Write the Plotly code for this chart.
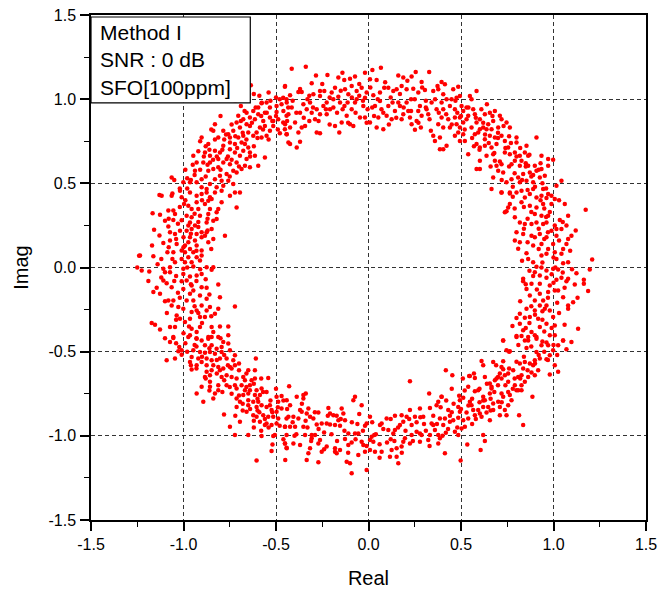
import plotly.graph_objects as go

# Constellation points, grouped by region of the ring (Real, Imag)
top_left_pts = [(-0.636,1.082),(-0.452,1.074),(-0.461,1.009),(-0.551,0.980),(-0.578,0.976),(-0.533,0.950),(-0.497,0.924),(-0.488,0.881),(-0.443,0.901),(-0.461,0.861),(-0.452,0.822),(-0.443,0.792),(-0.479,0.798),(-0.623,0.930),(-0.596,0.910),(-0.614,0.881),(-0.641,0.891),(-0.659,0.851),(-0.569,0.871),(-0.56,0.841),(-0.587,0.831),(-0.605,0.802),(-0.623,0.782),(-0.578,0.772),(-0.551,0.782),(-0.533,0.812),(-0.515,0.841),(-0.713,0.861),(-0.695,0.831),(-0.731,0.812),(-0.758,0.792),(-0.785,0.812),(-0.812,0.772),(-0.749,0.772),(-0.704,0.772),(-0.686,0.743),(-0.668,0.733),(-0.65,0.713),(-0.677,0.693),(-0.722,0.683),(-0.749,0.703),(-0.785,0.723),(-0.839,0.812),(-0.83,0.851),(-0.902,0.772),(-0.866,0.733),(-0.884,0.683),(-0.857,0.664),(-0.947,0.664),(-0.929,0.624),(-0.857,0.624),(-0.839,0.585),(-0.812,0.595),(-0.785,0.624),(-0.749,0.614),(-0.731,0.575),(-0.713,0.565),(-0.767,0.555),(-0.803,0.545),(-0.83,0.525),(-0.794,0.515),(-0.758,0.515),(-0.731,0.496),(-0.785,0.486),(-0.821,0.476),(-0.857,0.496),(-0.875,0.466),(-0.902,0.476),(-0.929,0.506),(-0.965,0.506),(-1.001,0.506),(-1.064,0.535),(-0.866,0.575),(-0.767,0.644),(-0.812,0.644),(-0.56,0.654),(-0.614,0.664),(-0.596,0.604),(-0.641,0.683),(-0.659,0.644),(-0.695,0.664),(-0.713,0.624),(-0.668,0.604),(-0.641,0.595),(-0.686,0.585),(-0.902,0.525),(-0.938,0.575),(-0.893,0.624),(-0.83,0.693),(-0.803,0.683),(-0.749,0.743),(-0.722,0.733),(-0.65,0.802),(-0.677,0.782),(-0.533,0.891),(-0.515,0.871),(-0.497,0.960),(-0.443,0.999),(-0.47,0.970),(-0.434,0.950),(-0.56,0.920),(-0.659,0.920),(-0.677,0.881),(-0.704,0.901),(-0.596,0.950),(-0.641,0.841),(-1.05,0.52),(-1.13,0.43),(-0.98,0.53),(-0.91,0.75),(-0.85,0.82),(-0.80,0.90),(-0.72,0.99),(-0.67,0.93),(-0.59,1.02),(-0.577,0.979),(-0.95,0.61),(-0.99,0.58),(-0.88,0.72),(-0.78,0.76),(-0.74,0.85),(-0.69,0.96),(-0.62,1.03),(-0.54,1.04),(-0.50,1.01),
    (-0.98,0.47),(-0.94,0.55),(-0.91,0.58),(-0.89,0.66),(-0.87,0.61),(-0.86,0.70),(-0.83,0.76),(-0.82,0.66),(-0.80,0.58),(-0.79,0.70),(-0.77,0.79),(-0.76,0.66),(-0.75,0.54),(-0.74,0.64),(-0.72,0.78),(-0.71,0.71),(-0.70,0.60),(-0.69,0.87),(-0.68,0.80),(-0.66,0.76),(-0.64,0.66),(-0.63,0.86),(-0.62,0.72),(-0.61,0.95),(-0.60,0.77),(-0.58,0.90),(-0.57,0.82),(-0.55,0.92),(-0.54,0.76),(-0.53,0.99),(-0.52,0.87),(-0.50,0.90),(-0.49,0.82),(-0.48,1.00),(-0.46,0.93),(-0.92,0.69),(-0.96,0.52),(-1.02,0.47),(-0.88,0.54),(-0.84,0.64)]

top_pts = [(-0.415,1.181),(-0.339,1.193),(-0.284,1.141),(-0.222,1.143),(-0.141,1.157),(-0.163,1.128),(-0.131,1.114),(-0.10,1.122),(-0.073,1.134),(-0.019,1.157),(0.021,1.173),(0.067,1.187),(0.008,1.118),(0.044,1.114),(0.161,1.141),(0.188,1.128),(0.233,1.134),(0.255,1.161),(0.287,1.102),(0.328,1.161),(0.373,1.078),(0.395,1.102),(-0.451,1.078),(-0.424,1.023),(-0.379,1.043),(-0.361,1.043),(-0.307,1.094),(-0.298,1.029),(-0.262,1.049),(-0.239,1.049),(-0.199,1.039),(-0.181,1.068),(-0.163,1.015),(-0.127,1.059),(-0.109,1.029),(-0.091,1.078),(-0.064,1.049),(-0.037,1.068),(-0.01,1.039),(-0.019,1.009),(0.026,1.023),(0.062,1.039),(0.085,1.068),(0.107,1.068),(0.134,1.049),(0.152,1.059),(0.179,1.078),(0.206,1.059),(0.242,1.062),(0.269,1.039),(0.305,1.055),(0.35,1.049),(0.377,1.059),(0.404,1.029),(-0.442,0.980),(-0.415,0.950),(-0.433,0.910),(-0.451,0.851),(-0.424,0.831),(-0.442,0.792),(-0.433,0.743),(-0.379,0.802),(-0.397,0.861),(-0.361,0.831),(-0.343,0.841),(-0.37,0.920),(-0.352,0.970),(-0.334,0.940),(-0.316,0.980),(-0.307,0.920),(-0.28,0.940),(-0.289,0.881),(-0.28,0.802),(-0.262,0.798),(-0.262,0.910),(-0.244,0.960),(-0.226,0.980),(-0.226,0.910),(-0.208,0.940),(-0.181,0.841),(-0.19,0.950),(-0.154,0.980),(-0.158,0.802),(-0.145,0.861),(-0.118,0.901),(-0.113,0.980),(-0.10,0.851),(-0.091,0.940),(-0.082,0.841),(-0.073,0.980),(-0.064,0.999),(-0.046,0.891),(-0.028,0.960),(-0.019,0.891),(-0.005,0.940),(0.008,0.861),(0.035,0.960),(0.053,0.891),(0.062,0.989),(0.044,0.831),(0.08,0.822),(0.08,0.920),(0.098,0.901),(0.107,0.960),(0.125,0.881),(0.143,0.930),(0.161,0.980),(0.179,0.881),(0.188,0.910),(0.206,0.980),(0.215,0.930),(0.224,0.891),(0.233,0.851),(0.251,0.818),(0.269,0.930),(0.278,0.960),(0.283,0.831),(0.287,0.901),(0.314,0.940),(0.323,0.910),(0.337,0.812),(0.341,0.980),(0.35,0.782),(0.359,0.752),(0.368,0.940),(0.377,0.851),(0.386,0.703),(0.404,0.703),(0.395,0.891),(-0.262,1.019),(-0.388,0.713),(-0.37,0.747),(-0.424,0.733),(-0.33,1.00),(-0.21,1.01),(-0.05,1.02),(0.12,1.01),(0.23,1.00),(0.31,0.99),(-0.14,0.94),(0.02,0.95),(0.17,0.96),(-0.32,0.87),(0.26,0.87),
    (-0.44,0.87),(-0.41,0.99),(-0.39,0.92),(-0.37,1.06),(-0.35,0.89),(-0.32,1.02),(-0.30,0.95),(-0.27,0.87),(-0.25,1.09),(-0.23,0.94),(-0.21,0.85),(-0.19,1.00),(-0.17,0.92),(-0.15,1.05),(-0.13,0.96),(-0.11,0.86),(-0.09,1.01),(-0.07,0.92),(-0.05,1.09),(-0.03,0.99),(-0.01,0.86),(0.01,1.07),(0.03,0.90),(0.05,1.00),(0.07,0.94),(0.09,1.10),(0.11,0.85),(0.13,0.98),(0.15,0.89),(0.17,1.03),(0.19,0.95),(0.21,1.11),(0.23,0.93),(0.25,1.00),(0.27,0.86),(0.29,1.07),(0.31,0.95),(0.33,0.88),(0.36,1.00),(0.38,0.92)]

top_right_pts = [(0.413,1.088),(0.458,1.059),(0.485,1.074),(0.494,1.019),(0.476,1.009),(0.449,0.999),(0.422,0.999),(0.395,0.980),(0.404,0.940),(0.467,0.940),(0.503,0.960),(0.512,0.930),(0.548,1.019),(0.557,0.999),(0.584,1.049),(0.53,0.950),(0.566,0.940),(0.575,0.910),(0.539,0.901),(0.494,0.891),(0.467,0.891),(0.431,0.881),(0.404,0.831),(0.44,0.831),(0.476,0.851),(0.494,0.831),(0.512,0.861),(0.485,0.802),(0.512,0.792),(0.521,0.752),(0.494,0.752),(0.467,0.782),(0.422,0.723),(0.386,0.772),(0.539,0.673),(0.557,0.831),(0.584,0.861),(0.602,0.881),(0.629,0.910),(0.656,0.920),(0.683,0.930),(0.71,0.901),(0.719,0.881),(0.674,0.871),(0.647,0.851),(0.62,0.831),(0.593,0.802),(0.575,0.792),(0.602,0.822),(0.638,0.822),(0.665,0.822),(0.701,0.831),(0.746,0.861),(0.764,0.831),(0.719,0.782),(0.683,0.772),(0.656,0.782),(0.629,0.762),(0.584,0.733),(0.602,0.713),(0.629,0.723),(0.665,0.713),(0.692,0.733),(0.737,0.752),(0.80,0.772),(0.80,0.743),(0.854,0.723),(0.908,0.772),(0.755,0.713),(0.737,0.683),(0.674,0.673),(0.638,0.664),(0.683,0.634),(0.719,0.614),(0.764,0.673),(0.791,0.683),(0.818,0.664),(0.845,0.683),(0.863,0.664),(0.827,0.634),(0.791,0.634),(0.773,0.614),(0.818,0.604),(0.863,0.604),(0.899,0.604),(0.935,0.664),(0.971,0.644),(0.998,0.640),(0.971,0.604),(0.935,0.585),(0.908,0.575),(0.872,0.565),(0.836,0.555),(0.809,0.535),(0.773,0.525),(0.818,0.506),(0.854,0.515),(0.89,0.506),(0.926,0.535),(0.953,0.545),(1.043,0.515),(1.016,0.486),(0.674,0.535),(0.701,0.575),(0.728,0.565),(0.692,0.604),(0.602,0.585),(0.584,0.585),(0.602,0.634),(0.746,0.506),(0.719,0.446),(0.764,0.446),(0.827,0.456),(0.89,0.466),(0.944,0.466),(0.971,0.436),(0.665,0.466),(0.44,0.96),(0.53,0.88),(0.61,0.94),(0.70,0.80),(0.76,0.78),(0.85,0.62),(0.93,0.62),(0.88,0.54),
    (0.42,0.91),(0.45,0.85),(0.47,0.99),(0.50,0.90),(0.52,0.82),(0.54,0.95),(0.56,0.77),(0.58,0.89),(0.60,0.70),(0.62,0.86),(0.63,0.79),(0.65,0.74),(0.67,0.90),(0.68,0.68),(0.70,0.77),(0.71,0.63),(0.73,0.84),(0.74,0.71),(0.76,0.60),(0.77,0.74),(0.79,0.56),(0.80,0.66),(0.82,0.71),(0.83,0.52),(0.85,0.60),(0.86,0.46),(0.87,0.67),(0.89,0.55),(0.90,0.48),(0.92,0.58),(0.94,0.50),(0.96,0.47),(0.66,0.60),(0.72,0.52),(0.78,0.48),(0.57,0.72),(0.48,0.92),(0.64,0.97)]

right_pts = [(0.719,0.446),(0.764,0.440),(0.80,0.446),(0.845,0.416),(0.872,0.436),(0.908,0.416),(0.935,0.426),(0.962,0.413),(0.989,0.426),(1.007,0.407),(0.989,0.377),(0.944,0.377),(0.908,0.357),(0.872,0.367),(0.827,0.387),(0.764,0.377),(0.755,0.357),(0.746,0.334),(0.737,0.328),(0.791,0.298),(0.818,0.268),(0.845,0.259),(0.881,0.259),(0.908,0.268),(0.944,0.259),(0.962,0.268),(0.971,0.308),(0.935,0.308),(0.899,0.318),(1.061,0.377),(1.079,0.308),(1.034,0.282),(1.007,0.249),(1.016,0.229),(1.043,0.229),(1.070,0.249),(1.097,0.189),(1.079,0.170),(1.07,0.140),(1.052,0.110),(1.043,0.081),(1.079,0.031),(1.052,0.025),(1.016,0.051),(1.007,0.091),(0.998,0.140),(1.016,0.189),(0.989,0.219),(0.962,0.180),(0.926,0.199),(0.899,0.180),(0.881,0.189),(0.836,0.199),(0.80,0.209),(0.791,0.160),(0.818,0.150),(0.809,0.111),(0.854,0.085),(0.863,0.051),(0.89,0.031),(0.935,0.071),(0.962,0.081),(0.971,0.110),(0.935,0.140),(1.174,0.343),(1.209,0.047),(1.196,-0.012),(1.124,-0.034),(1.164,-0.073),(1.164,-0.097),(1.187,-0.140),(1.115,-0.101),(1.079,-0.067),(1.070,-0.081),(1.043,-0.061),(1.016,-0.073),(1.025,-0.012),(0.998,-0.008),(0.962,-0.018),(0.935,0.0),(0.908,0.004),(0.899,-0.028),(0.926,-0.048),(0.962,-0.061),(0.98,-0.107),(1.007,-0.136),(1.025,-0.136),(0.926,-0.097),(0.881,-0.097),(0.836,-0.067),(0.836,-0.081),(0.854,-0.127),(0.872,-0.166),(0.899,-0.196),(0.926,-0.156),(0.971,-0.146),(0.944,-0.196),(0.962,-0.225),(0.953,-0.245),(0.98,-0.255),(0.926,-0.225),(0.899,-0.255),(0.917,-0.304),(0.872,-0.294),(0.854,-0.245),(0.818,-0.275),(0.845,-0.298),(0.926,-0.354),(0.881,-0.383),(0.836,-0.373),(0.80,-0.407),(0.818,-0.334),(0.778,-0.348),(0.863,-0.413),(0.908,-0.413),(0.962,-0.334),(1.007,-0.344),(0.998,-0.294),(1.079,-0.225),(1.079,-0.245),(1.052,-0.176),(1.106,-0.206),(1.133,-0.364),(0.98,-0.403),(1.052,-0.433),(0.728,-0.433),(0.88,0.33),(0.95,0.35),(0.86,0.15),(0.92,0.11),(1.03,0.16),(0.89,-0.05),(1.05,-0.03),(0.94,-0.26),(1.02,-0.21),(0.87,-0.33),(0.95,-0.38),
    (0.78,0.42),(0.84,0.36),(0.93,0.40),(0.98,0.33),(1.03,0.40),(0.86,0.29),(0.92,0.23),(0.97,0.21),(1.05,0.27),(0.84,0.23),(0.89,0.13),(0.95,0.17),(1.00,0.06),(1.09,0.10),(0.83,0.04),(0.87,-0.02),(0.94,0.03),(0.99,-0.04),(1.10,-0.01),(0.85,-0.10),(0.91,-0.13),(1.00,-0.09),(1.06,-0.12),(0.88,-0.23),(0.97,-0.18),(1.03,-0.27),(0.82,-0.20),(0.90,-0.28),(0.94,-0.31),(0.99,-0.36),(0.85,-0.36),(0.80,-0.30),(1.06,-0.34),(0.79,0.35),(1.12,0.22),(1.13,-0.18),(0.96,0.30),(1.01,0.00)]

left_pts = [(-1.019,0.456),(-0.965,0.446),(-0.929,0.426),(-0.902,0.436),(-0.875,0.446),(-0.848,0.407),(-0.83,0.446),(-0.794,0.456),(-0.749,0.426),(-0.722,0.446),(-0.695,0.446),(-0.713,0.357),(-1.118,0.426),(-1.064,0.426),(-0.866,0.397),(-0.884,0.377),(-0.929,0.387),(-0.974,0.367),(-0.956,0.347),(-0.92,0.347),(-0.857,0.347),(-0.812,0.347),(-0.794,0.387),(-0.821,0.328),(-0.866,0.318),(-0.911,0.308),(-0.956,0.298),(-0.983,0.308),(-1.055,0.338),(-1.082,0.338),(-1.046,0.318),(-1.167,0.322),(-1.127,0.314),(-1.10,0.278),(-1.055,0.282),(-0.965,0.268),(-0.875,0.268),(-0.839,0.278),(-0.821,0.288),(-0.974,0.249),(-0.938,0.249),(-1.082,0.243),(-1.073,0.209),(-1.046,0.199),(-1.019,0.219),(-0.983,0.219),(-0.956,0.229),(-0.902,0.209),(-0.875,0.209),(-0.848,0.229),(-0.884,0.189),(-0.902,0.180),(-0.929,0.199),(-0.776,0.189),(-0.839,0.170),(-0.866,0.150),(-1.159,0.225),(-1.109,0.146),(-1.073,0.160),(-1.037,0.140),(-0.992,0.130),(-0.974,0.150),(-0.965,0.180),(-0.938,0.160),(-0.929,0.130),(-0.965,0.110),(-0.992,0.091),(-1.01,0.101),(-0.947,0.091),(-0.902,0.101),(-0.902,0.071),(-0.929,0.061),(-0.974,0.061),(-1.01,0.051),(-1.055,0.091),(-1.087,0.091),(-1.235,0.071),(-1.163,0.067),(-1.046,0.031),(-0.992,0.031),(-0.956,0.031),(-0.911,0.041),(-0.875,0.002),(-0.848,-0.014),(-0.839,0.002),(-0.947,0.006),(-1.001,-0.008),(-1.073,0.002),(-1.109,-0.008),(-1.226,-0.018),(-1.185,-0.024),(-1.10,-0.028),(-1.073,-0.028),(-1.001,-0.038),(-0.965,-0.054),(-0.929,-0.048),(-0.902,-0.038),(-0.983,-0.077),(-1.01,-0.081),(-1.109,-0.077),(-1.091,-0.093),(-1.145,-0.121),(-1.127,-0.156),(-1.163,-0.146),(-1.064,-0.117),(-1.001,-0.127),(-0.956,-0.107),(-0.947,-0.136),(-0.902,-0.117),(-0.875,-0.121),(-0.812,-0.101),(-0.965,-0.156),(-0.983,-0.196),(-0.947,-0.196),(-0.911,-0.166),(-0.875,-0.186),(-0.803,-0.176),(-0.902,-0.225),(-1.055,-0.196),(-1.082,-0.196),(-1.064,-0.225),(-1.028,-0.235),(-1.001,-0.245),(-0.956,-0.265),(-0.929,-0.255),(-0.875,-0.255),(-0.857,-0.235),(-0.812,-0.245),(-0.83,-0.275),(-0.884,-0.294),(-0.911,-0.294),(-0.965,-0.304),(-1.019,-0.304),(-1.037,-0.285),(-0.722,-0.231),(-1.172,-0.330),(-1.154,-0.340),(-1.127,-0.369),(-1.073,-0.354),(-1.046,-0.354),(-0.992,-0.324),(-0.956,-0.364),(-0.929,-0.383),(-0.911,-0.354),(-0.848,-0.354),(-0.803,-0.350),(-0.758,-0.350),(-1.055,-0.413),(-0.974,-0.413),(-0.866,-0.413),(-0.839,-0.383),(-0.758,-0.403),(-0.857,0.417),(-1.01,0.417),(-0.997,0.377),(-1.25,0.0),(-1.24,0.07),(-1.03,0.26),(-0.92,0.24),(-1.04,-0.05),(-0.93,-0.08),(-1.03,-0.15),(-0.92,-0.27),(-1.00,0.18),(-1.12,0.05),
    (-1.06,0.44),(-0.99,0.40),(-0.90,0.40),(-1.02,0.36),(-0.94,0.32),(-0.87,0.29),(-1.08,0.29),(-1.01,0.28),(-0.92,0.27),(-1.13,0.19),(-1.04,0.17),(-0.96,0.20),(-0.87,0.22),(-1.08,0.12),(-1.00,0.12),(-0.93,0.10),(-0.85,0.11),(-1.14,0.02),(-1.06,0.05),(-0.98,0.00),(-0.91,-0.01),(-1.12,-0.06),(-1.05,-0.08),(-0.96,-0.10),(-0.88,-0.07),(-1.10,-0.20),(-1.02,-0.18),(-0.94,-0.23),(-0.86,-0.16),(-1.09,-0.27),(-1.04,-0.31),(-0.97,-0.35),(-0.90,-0.33),(-0.85,-0.29),(-1.10,-0.42),(-1.00,-0.39),(-0.93,-0.42),(-0.80,-0.42),(-1.19,-0.08),(-1.17,0.13)]

bottom_left_pts = [(-1.055,-0.419),(-1.073,-0.442),(-1.023,-0.472),(-1.028,-0.498),(-1.01,-0.492),(-1.091,-0.551),(-1.046,-0.541),(-0.965,-0.403),(-0.929,-0.423),(-0.902,-0.433),(-0.866,-0.423),(-0.848,-0.413),(-0.812,-0.413),(-0.785,-0.442),(-0.758,-0.452),(-0.794,-0.472),(-0.821,-0.482),(-0.848,-0.462),(-0.884,-0.462),(-0.947,-0.492),(-0.911,-0.502),(-0.884,-0.506),(-0.857,-0.502),(-0.83,-0.512),(-0.794,-0.502),(-0.749,-0.492),(-0.722,-0.521),(-0.731,-0.551),(-0.767,-0.541),(-0.803,-0.541),(-0.848,-0.551),(-0.875,-0.541),(-0.92,-0.541),(-0.956,-0.531),(-0.965,-0.561),(-0.929,-0.581),(-0.902,-0.561),(-0.875,-0.581),(-0.839,-0.581),(-0.812,-0.591),(-0.785,-0.600),(-0.749,-0.591),(-0.722,-0.581),(-0.956,-0.606),(-0.848,-0.610),(-0.875,-0.620),(-0.857,-0.640),(-0.884,-0.650),(-0.803,-0.610),(-0.794,-0.650),(-0.767,-0.640),(-0.74,-0.650),(-0.713,-0.660),(-0.677,-0.650),(-0.65,-0.610),(-0.614,-0.610),(-0.609,-0.541),(-0.668,-0.670),(-0.632,-0.670),(-0.614,-0.660),(-0.641,-0.699),(-0.686,-0.699),(-0.722,-0.699),(-0.767,-0.699),(-0.812,-0.699),(-0.857,-0.679),(-0.857,-0.709),(-0.902,-0.709),(-0.83,-0.749),(-0.812,-0.729),(-0.929,-0.749),(-0.713,-0.719),(-0.668,-0.729),(-0.641,-0.729),(-0.605,-0.729),(-0.578,-0.719),(-0.551,-0.739),(-0.542,-0.656),(-0.65,-0.749),(-0.614,-0.758),(-0.587,-0.758),(-0.677,-0.758),(-0.713,-0.778),(-0.839,-0.778),(-0.893,-0.798),(-0.695,-0.798),(-0.65,-0.788),(-0.623,-0.798),(-0.596,-0.798),(-0.578,-0.818),(-0.551,-0.828),(-0.533,-0.818),(-0.497,-0.768),(-0.47,-0.764),(-0.488,-0.798),(-0.47,-0.837),(-0.497,-0.857),(-0.524,-0.847),(-0.605,-0.828),(-0.65,-0.818),(-0.713,-0.828),(-0.659,-0.857),(-0.623,-0.877),(-0.605,-0.887),(-0.569,-0.877),(-0.542,-0.887),(-0.515,-0.887),(-0.488,-0.897),(-0.443,-0.897),(-0.587,-0.916),(-0.551,-0.926),(-0.56,-0.936),(-0.524,-0.936),(-0.497,-0.926),(-0.452,-0.946),(-0.695,-0.916),(-0.749,-0.946),(-0.781,-0.873),(-0.506,-0.995),(-0.515,-1.001),(-0.443,-0.995),(-0.578,-1.001),(-0.65,-0.995),(-0.722,-0.995),(-0.519,-1.051),(-0.452,-1.045),(-0.524,-1.090),(-0.443,-1.071),(-0.45,-1.144),(-0.605,-1.146),(-1.01,-0.518),(-0.99,-0.45),(-0.93,-0.47),(-0.76,-0.58),(-0.70,-0.61),(-0.74,-0.75),(-0.68,-0.85),(-0.59,-0.86),(-0.54,-0.95),(-0.62,-0.95),
    (-1.04,-0.45),(-0.98,-0.50),(-0.94,-0.46),(-0.90,-0.53),(-0.86,-0.48),(-0.82,-0.55),(-0.78,-0.52),(-0.93,-0.60),(-0.88,-0.66),(-0.82,-0.63),(-0.78,-0.67),(-0.74,-0.60),(-0.70,-0.57),(-0.66,-0.63),(-0.62,-0.69),(-0.58,-0.66),(-0.79,-0.74),(-0.75,-0.71),(-0.70,-0.76),(-0.66,-0.71),(-0.60,-0.78),(-0.57,-0.74),(-0.53,-0.79),(-0.49,-0.83),(-0.46,-0.79),(-0.68,-0.81),(-0.64,-0.84),(-0.60,-0.85),(-0.56,-0.90),(-0.52,-0.86),(-0.48,-0.94),(-0.62,-0.91),(-0.58,-0.97),(-0.46,-1.02),(-0.86,-0.73),(-0.96,-0.58),(-0.72,-0.88),(-0.50,-0.72)]

bottom_pts = [(-0.429,-0.705),(-0.442,-0.788),(-0.424,-0.818),(-0.388,-0.768),(-0.352,-0.778),(-0.352,-0.758),(-0.339,-0.749),(-0.406,-0.887),(-0.433,-0.887),(-0.424,-0.946),(-0.451,-0.946),(-0.37,-0.847),(-0.361,-0.857),(-0.325,-0.837),(-0.334,-0.867),(-0.316,-0.887),(-0.298,-0.897),(-0.379,-0.897),(-0.271,-0.861),(-0.217,-0.834),(-0.208,-0.867),(-0.19,-0.877),(-0.172,-0.881),(-0.145,-0.837),(-0.136,-0.867),(-0.127,-0.907),(-0.163,-0.907),(-0.28,-0.932),(-0.226,-0.926),(-0.208,-0.932),(-0.181,-0.936),(-0.154,-0.940),(-0.073,-0.768),(-0.082,-0.788),(-0.037,-0.818),(-0.01,-0.926),(-0.019,-0.940),(0.008,-0.887),(-0.397,-0.946),(-0.352,-0.946),(-0.343,-0.995),(-0.307,-0.995),(-0.289,-0.995),(-0.451,-1.045),(-0.442,-1.074),(-0.406,-1.045),(-0.37,-1.055),(-0.316,-1.074),(-0.271,-1.045),(-0.262,-1.025),(-0.307,-1.015),(-0.253,-1.094),(-0.325,-1.104),(-0.334,-1.144),(-0.271,-1.157),(-0.181,-1.074),(-0.181,-1.094),(-0.172,-1.104),(-0.154,-1.084),(-0.127,-1.019),(-0.109,-0.986),(-0.073,-0.986),(-0.055,-0.986),(-0.037,-1.035),(-0.028,-1.055),(-0.019,-1.094),(-0.01,-1.203),(-0.091,-1.223),(-0.118,-1.154),(-0.1,-1.163),(-0.055,-1.114),(0.008,-1.025),(0.017,-1.005),(0.031,-0.995),(0.008,-1.084),(0.035,-1.094),(0.026,-1.035),(0.062,-0.936),(0.071,-0.926),(0.098,-0.897),(0.071,-1.094),(0.116,-1.124),(0.125,-1.084),(0.152,-1.074),(0.152,-1.124),(0.161,-1.163),(0.179,-1.064),(0.188,-1.035),(0.197,-1.015),(0.134,-0.986),(0.143,-0.966),(0.107,-0.966),(0.17,-0.936),(0.188,-0.916),(0.179,-0.877),(0.143,-0.881),(0.206,-0.887),(0.224,-0.847),(0.251,-0.887),(0.233,-0.936),(0.26,-0.976),(0.278,-0.986),(0.278,-1.035),(0.224,-1.045),(0.233,-0.995),(0.287,-0.995),(0.323,-1.025),(0.332,-0.995),(0.359,-0.966),(0.377,-0.995),(0.386,-1.015),(0.377,-1.045),(0.278,-0.837),(0.296,-0.887),(0.341,-0.926),(0.35,-0.936),(0.332,-0.834),(0.368,-0.818),(0.377,-0.798),(0.395,-0.768),(0.386,-0.897),(0.224,-0.676),(0.328,-0.749),(0.413,-0.897),(-0.253,-0.926),(-0.091,-1.039),(-0.109,-1.055),(-0.226,-1.064),(-0.40,-1.00),(-0.24,-0.98),(-0.06,-0.93),(0.06,-1.05),(0.30,-0.93),(-0.33,-0.95),(0.12,-1.02),
    (-0.44,-0.84),(-0.41,-0.92),(-0.39,-0.99),(-0.36,-0.81),(-0.34,-0.91),(-0.31,-1.03),(-0.29,-0.86),(-0.27,-0.96),(-0.24,-1.08),(-0.22,-0.88),(-0.20,-0.99),(-0.17,-1.03),(-0.15,-0.90),(-0.13,-0.97),(-0.11,-1.10),(-0.09,-0.92),(-0.07,-1.02),(-0.05,-0.87),(-0.03,-0.97),(-0.01,-1.06),(0.02,-0.92),(0.04,-0.99),(0.06,-1.13),(0.08,-0.96),(0.10,-1.04),(0.12,-0.90),(0.14,-1.03),(0.16,-0.95),(0.18,-1.10),(0.20,-0.97),(0.22,-0.90),(0.24,-1.03),(0.26,-0.92),(0.28,-0.89),(0.31,-0.97),(0.33,-1.06),(0.35,-0.88),(0.37,-0.93),(0.39,-0.83),(0.40,-1.00)]

bottom_right_pts = [(0.728,-0.433),(0.80,-0.413),(0.827,-0.407),(0.845,-0.433),(0.863,-0.433),(0.908,-0.423),(0.899,-0.403),(0.962,-0.446),(1.007,-0.403),(1.025,-0.462),(1.052,-0.433),(1.097,-0.442),(1.07,-0.486),(0.998,-0.492),(0.971,-0.462),(0.935,-0.462),(0.908,-0.502),(0.854,-0.478),(0.746,-0.492),(0.764,-0.498),(0.611,-0.555),(0.674,-0.561),(0.728,-0.557),(0.719,-0.591),(0.728,-0.604),(0.71,-0.630),(0.737,-0.640),(0.755,-0.630),(0.782,-0.610),(0.818,-0.571),(0.845,-0.561),(0.872,-0.571),(0.899,-0.551),(0.926,-0.541),(0.962,-0.545),(0.98,-0.521),(1.007,-0.581),(0.98,-0.636),(1.025,-0.620),(0.917,-0.610),(0.899,-0.640),(0.881,-0.624),(0.863,-0.650),(0.836,-0.600),(0.827,-0.640),(0.809,-0.650),(0.845,-0.679),(0.827,-0.699),(0.809,-0.729),(0.80,-0.729),(0.827,-0.729),(0.791,-0.699),(0.755,-0.679),(0.719,-0.660),(0.692,-0.660),(0.683,-0.670),(0.656,-0.689),(0.665,-0.709),(0.629,-0.650),(0.575,-0.656),(0.548,-0.644),(0.539,-0.709),(0.575,-0.735),(0.593,-0.729),(0.62,-0.768),(0.629,-0.788),(0.656,-0.749),(0.665,-0.719),(0.719,-0.749),(0.728,-0.768),(0.755,-0.739),(0.764,-0.758),(0.773,-0.788),(0.755,-0.818),(0.737,-0.847),(0.71,-0.828),(0.701,-0.798),(0.674,-0.808),(0.647,-0.828),(0.62,-0.828),(0.593,-0.847),(0.566,-0.847),(0.548,-0.798),(0.557,-0.818),(0.53,-0.861),(0.575,-0.877),(0.602,-0.867),(0.638,-0.861),(0.674,-0.847),(0.71,-0.877),(0.746,-0.877),(0.656,-0.907),(0.611,-0.887),(0.539,-0.897),(0.512,-0.907),(0.485,-0.893),(0.494,-0.857),(0.485,-0.828),(0.494,-0.788),(0.490,-0.762),(0.512,-0.774),(0.458,-0.907),(0.44,-0.916),(0.404,-0.936),(0.431,-0.847),(0.395,-0.768),(0.521,-0.946),(0.503,-0.956),(0.467,-0.976),(0.418,-0.982),(0.485,-0.995),(0.62,-0.995),(0.629,-1.031),(0.534,-1.051),(0.606,-1.084),(0.498,-1.146),(0.413,-1.104),(0.814,-0.877),(0.836,-0.936),(0.886,-0.768),(0.418,-0.610),(0.453,-0.640),(0.544,-0.644),(0.95,-0.50),(0.89,-0.58),(0.79,-0.66),(0.70,-0.70),(0.60,-0.80),(0.56,-0.93),(0.45,-0.86),(0.66,-0.78),
    (0.42,-0.79),(0.44,-0.88),(0.46,-0.81),(0.48,-0.95),(0.50,-0.84),(0.52,-0.73),(0.54,-0.82),(0.56,-0.78),(0.58,-0.90),(0.60,-0.72),(0.62,-0.79),(0.64,-0.69),(0.66,-0.85),(0.68,-0.74),(0.70,-0.65),(0.72,-0.80),(0.74,-0.70),(0.76,-0.60),(0.78,-0.72),(0.80,-0.56),(0.82,-0.66),(0.84,-0.53),(0.86,-0.61),(0.88,-0.47),(0.90,-0.57),(0.92,-0.52),(0.94,-0.44),(0.97,-0.55),(1.00,-0.46),(1.02,-0.52),(0.69,-0.58),(0.76,-0.50),(0.81,-0.46),(0.57,-0.63),(0.62,-0.58),(0.51,-0.66),(0.45,-0.72),(0.43,-0.96)]

regions = [top_left_pts, top_pts, top_right_pts, right_pts,
           left_pts, bottom_left_pts, bottom_pts, bottom_right_pts]
real = [p[0] for r in regions for p in r]
imag = [p[1] for r in regions for p in r]

tick_vals = [-1.5, -1.0, -0.5, 0.0, 0.5, 1.0, 1.5]
tick_text = ["-1.5", "-1.0", "-0.5", "0.0", "0.5", "1.0", "1.5"]
legend_lines = ["Method I", "SNR : 0 dB", "SFO[100ppm]"]

FONT = "Liberation Sans, Arial, sans-serif"

fig = go.Figure()
fig.add_trace(go.Scatter(
    x=real, y=imag, mode="markers",
    marker=dict(color="#ff0000", size=4.5, line=dict(width=0)),
    showlegend=False, hoverinfo="skip"))

axis_common = dict(
    range=[-1.5, 1.5], tickvals=tick_vals, ticktext=tick_text,
    automargin=False, ticklabeloverflow="allow",
    showline=True, linecolor="black", linewidth=1.5, mirror=True,
    ticks="outside", ticklen=9, tickwidth=1.5, tickcolor="black",
    showgrid=True, gridcolor="#333333", gridwidth=1, griddash="4px,3px",
    zeroline=False,
    tickfont=dict(family=FONT, size=16, color="black"),
    minor=dict(ticks="outside", ticklen=5, tickwidth=1.3, tickcolor="black",
               dtick=0.25, showgrid=False),
)

fig.update_xaxes(**axis_common, ticklabelstandoff=0,
                 title=dict(text="Real", font=dict(family=FONT, size=20, color="black"),
                            standoff=19))
fig.update_yaxes(**axis_common, ticklabelstandoff=1,
                 title=dict(text="Imag", font=dict(family=FONT, size=20, color="black"),
                            standoff=14))

# legend-like text box in the top-left corner
fig.add_shape(type="rect", xref="paper", yref="paper",
              x0=0.0, x1=0.287, y0=0.826, y1=0.996,
              line=dict(color="black", width=1.2), fillcolor="white", layer="above")
fig.add_annotation(xref="paper", yref="paper", x=0.013, y=0.993,
                   xanchor="left", yanchor="top", align="left", showarrow=False,
                   text="<br>".join(legend_lines),
                   font=dict(family=FONT, size=21, color="black"))

fig.update_layout(
    width=658, height=590,
    margin=dict(l=91, r=12, t=15, b=70),
    plot_bgcolor="white", paper_bgcolor="white",
    font=dict(family=FONT, color="black"),
)

# remove the default page margin so the figure fills the window exactly
fig.write_html("out.html",
               config={"displayModeBar": False},
               post_script="document.body.style.margin='0';document.body.style.overflow='hidden';")
